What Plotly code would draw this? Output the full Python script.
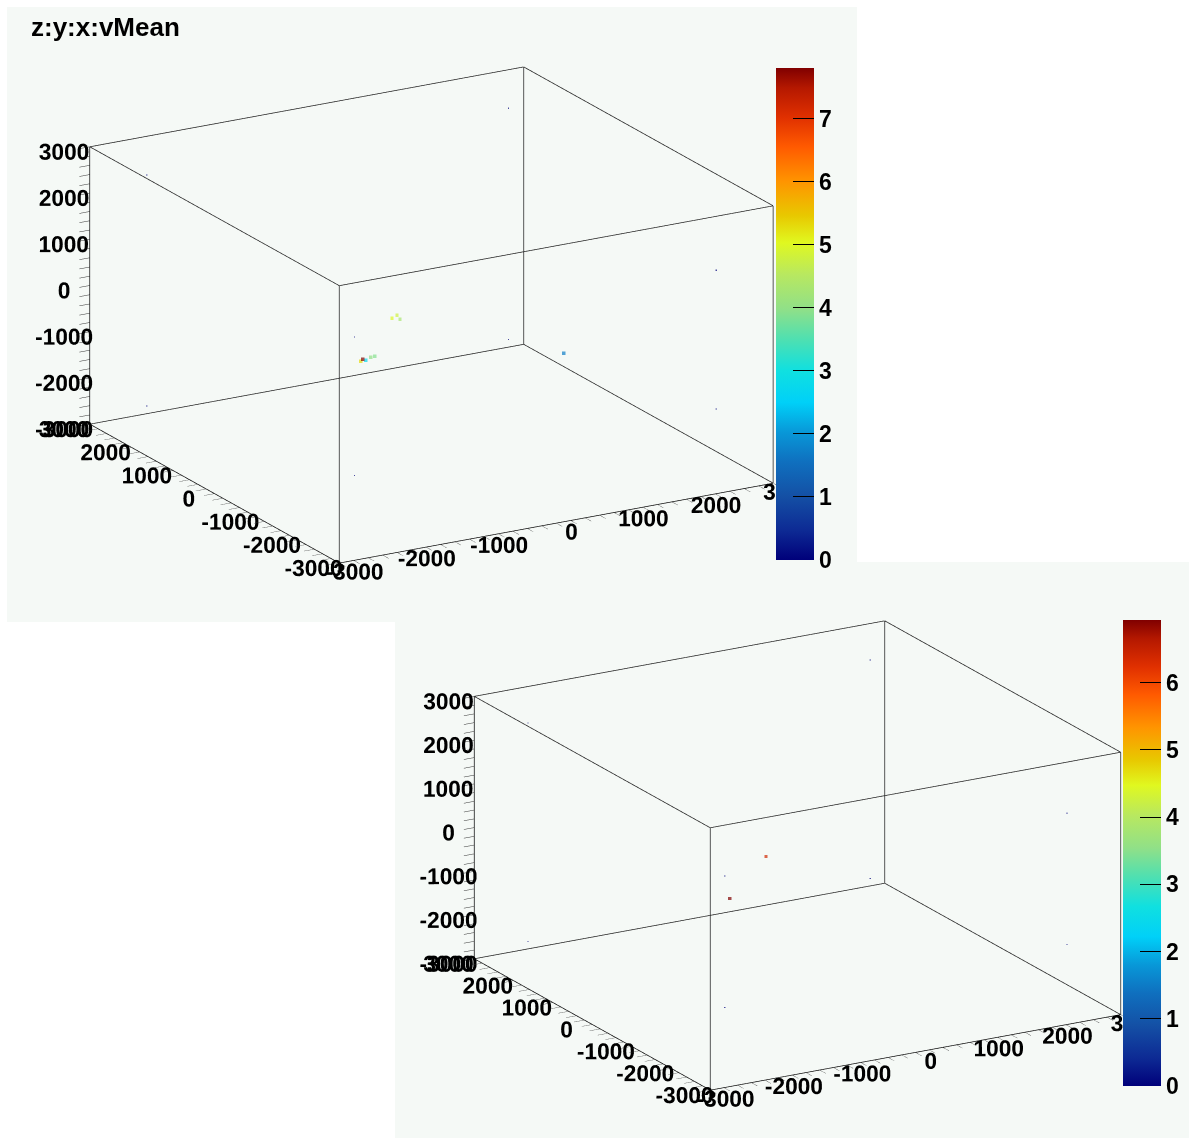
import plotly.graph_objects as go

W, H = 1189, 1138

# ---- data ----
corner_x = [-2500, -2500, 2500, 2500, 2500, 2500, -2500, -2500]
corner_y = [-2500, -2500, -2500, -2500, 2500, 2500, 2500, 2500]
corner_z = [-1500, 1500, -1500, 1500, 2500, -2500, -2500, 2500]
corner_v = [0, 0, 0, 0, 0, 0, 0, 0]

top_x = [-1697, -1628, -1586, -2128, -2058, -1988, -1933, -2100, 678]
top_y = [-2000, -2000, -2000, -2000, -2000, -2000, -2000, -2000, -2000]
top_z = [1421, 1466, 1367, 615, 615, 661, 667, 650, -22]
top_v = [5.0, 4.8, 4.3, 5.3, 2.7, 4.0, 3.9, 7.8, 1.7]

bot_x = [-1610, -2140]
bot_y = [-2000, -2000]
bot_z = [1443, 635]
bot_v = [6.4, 6.93]

axis_range = [-3000, 3000]
major_ticks = [-3000, -2000, -1000, 0, 1000, 2000, 3000]
minor_step = 200
cbar_ticks_top = [0, 1, 2, 3, 4, 5, 6, 7]
cbar_ticks_bot = [0, 1, 2, 3, 4, 5, 6]
title_text = "z:y:x:vMean"

palette = [
    [0.0, '#00007a'], [0.06, '#0d2a94'], [0.13, '#1450a5'], [0.2, '#0f70bf'],
    [0.26, '#0898d8'], [0.32, '#00d0f8'], [0.385, '#10e0e0'], [0.45, '#50e0b0'],
    [0.51, '#90e088'], [0.58, '#b8e860'], [0.645, '#e0f820'], [0.7, '#e8c800'],
    [0.77, '#ff9400'], [0.84, '#ff5a00'], [0.9, '#e03000'], [0.96, '#b41800'],
    [1.0, '#800000'],
]

PANEL = '#f5f9f6'
FONT = 'Liberation Sans'

tickvals = list(range(axis_range[0], axis_range[1] + 1, minor_step))
ticktext = [str(v) if v in major_ticks else '' for v in tickvals]


def axis():
    return dict(range=axis_range, autorange=False, tickmode='array',
                tickvals=tickvals, ticktext=ticktext, ticks='outside',
                ticklen=12, tickcolor='#333333', tickwidth=1, showline=True,
                linecolor='black', linewidth=1, mirror=False, tickangle=0,
                showgrid=False, zeroline=False,
                showbackground=False, showspikes=False, title=dict(text=''),
                tickfont=dict(family=FONT, size=16.5, color='black', weight='bold'))


def cam():
    d = (-0.472, -0.821, 0.32)
    k = 2.0
    return dict(eye=dict(x=d[0] * k, y=d[1] * k, z=d[2] * k), up=dict(x=0, y=0, z=1),
                center=dict(x=0, y=0, z=0), projection=dict(type='orthographic'))


def cbar(x0, y0, length, ticks):
    return dict(x=x0 / W, xanchor='left', y=1 - y0 / H, yanchor='top',
                len=length, lenmode='pixels', thickness=38, thicknessmode='pixels',
                tickmode='array', tickvals=ticks, ticktext=['<b>%d</b>' % t for t in ticks],
                ticks='inside', ticklen=21,
                tickcolor='black', outlinewidth=0, xpad=0, ypad=0,
                tickfont=dict(family=FONT, size=23, color='black'))


def box_edges(r):
    lo, hi = r
    xs, ys, zs = [], [], []
    corners = [(a, b) for a in (lo, hi) for b in (lo, hi)]
    for a, b in corners:  # edges parallel to x, y, z
        xs += [lo, hi, None]; ys += [a, a, None]; zs += [b, b, None]
        xs += [a, a, None]; ys += [lo, hi, None]; zs += [b, b, None]
        xs += [a, a, None]; ys += [b, b, None]; zs += [lo, hi, None]
    return xs, ys, zs


fig = go.Figure()

ex, ey, ez = box_edges(axis_range)
for sc in ('scene', 'scene2'):
    fig.add_trace(go.Scatter3d(x=ex, y=ey, z=ez, mode='lines',
                               line=dict(color='#222222', width=1.5),
                               hoverinfo='skip', showlegend=False, scene=sc))

fig.add_trace(go.Scatter3d(
    x=corner_x + top_x, y=corner_y + top_y, z=corner_z + top_z, mode='markers',
    marker=dict(size=[1.2] * len(corner_x) + [3.5] * len(top_x), symbol='square',
                color=corner_v + top_v, colorscale=palette, cmin=0, cmax=max(top_v),
                line=dict(width=0), colorbar=cbar(776, 68, 492, cbar_ticks_top)),
    scene='scene', showlegend=False))

fig.add_trace(go.Scatter3d(
    x=corner_x + bot_x, y=corner_y + bot_y, z=corner_z + bot_z, mode='markers',
    marker=dict(size=[1.2] * len(corner_x) + [3.5] * len(bot_x), symbol='square',
                color=corner_v + bot_v, colorscale=palette, cmin=0, cmax=max(bot_v),
                line=dict(width=0), colorbar=cbar(1123, 620, 466, cbar_ticks_bot)),
    scene='scene2', showlegend=False))

scene_common = dict(xaxis=axis(), yaxis=axis(), zaxis=axis(),
                    aspectmode='manual', bgcolor='rgba(0,0,0,0)', dragmode=False,
                    camera=cam())

s_top, s_bot = 1.625, 1.676
fig.update_layout(
    width=W, height=H, autosize=False, paper_bgcolor='white',
    margin=dict(l=0, r=0, t=0, b=0, autoexpand=False),
    scene=dict(domain=dict(x=[7 / W, 856 / W], y=[1 - 623 / H, 1 - 7 / H]),
               aspectratio=dict(x=s_top, y=s_top, z=0.585 * s_top), **scene_common),
    scene2=dict(domain=dict(x=[406 / W, 1.0], y=[0.0, 1 - 573 / H]),
                aspectratio=dict(x=s_bot, y=s_bot, z=0.585 * s_bot), **scene_common),
    shapes=[
        dict(type='rect', xref='paper', yref='paper', x0=7 / W, x1=857 / W,
             y0=1 - 622 / H, y1=1 - 7 / H, fillcolor=PANEL, line=dict(width=0), layer='below'),
        dict(type='rect', xref='paper', yref='paper', x0=395 / W, x1=1.0,
             y0=0, y1=1 - 562 / H, fillcolor=PANEL, line=dict(width=0), layer='below'),
    ],
    annotations=[dict(text='<b>%s</b>' % title_text, x=29 / W, y=1 - 10 / H,
                      xref='paper', yref='paper',
                      xanchor='left', yanchor='top', showarrow=False,
                      font=dict(family=FONT, size=26, color='black'))],
)

fig.write_html(
    "out.html",
    config={'responsive': False, 'displayModeBar': False},
    post_script="document.body.style.margin='0px';document.body.style.overflow='hidden';")
